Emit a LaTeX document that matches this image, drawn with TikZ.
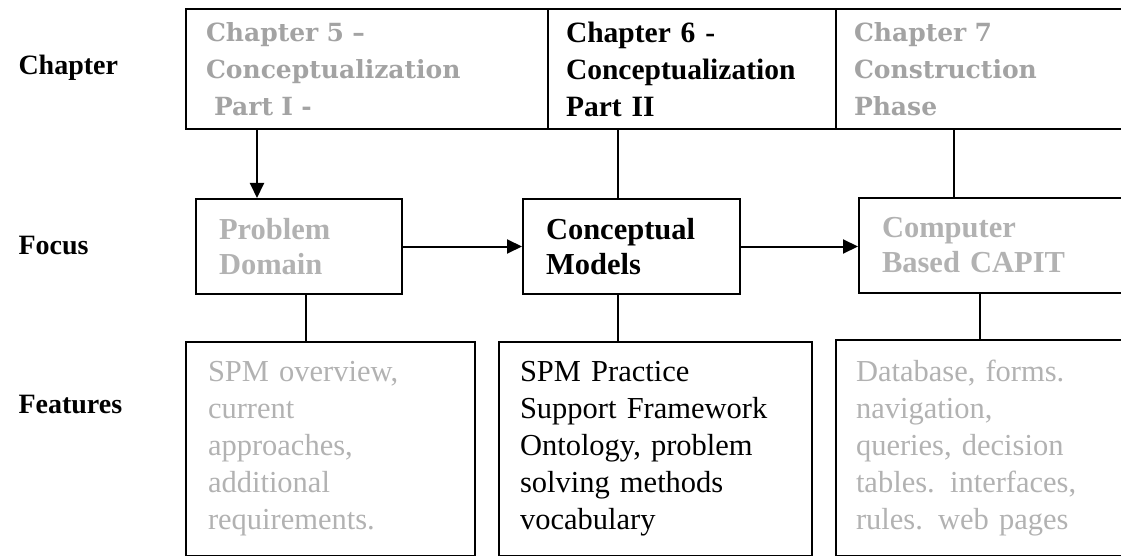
\documentclass[tikz,border=0pt]{standalone}
\usepackage{fontspec}
\setmainfont{Liberation Serif}
\newfontfamily\wideserif{DejaVu Serif}
\usetikzlibrary{arrows.meta}
\definecolor{fadedA}{gray}{0.64}
\definecolor{fadedB}{gray}{0.70}
\begin{document}
\begin{tikzpicture}[x=1pt,y=-1pt,
  box/.style={draw, line width=2pt, inner ysep=0pt, anchor=north west, align=left},
  lab/.style={font=\fontsize{28}{30}\selectfont\bfseries, anchor=west},
  arr/.style={line width=2pt, -{Triangle[length=15pt,width=14pt]}},
  con/.style={line width=2pt},
  topgrey/.style={font=\wideserif\bfseries\fontsize{25}{37}\selectfont, text=fadedA},
  topblack/.style={font=\bfseries\fontsize{29.5}{37}\selectfont},
  focgrey/.style={font=\bfseries\fontsize{30.5}{35}\selectfont, text=fadedB},
  focblack/.style={font=\bfseries\fontsize{30.5}{35}\selectfont},
  featgrey/.style={font=\fontsize{30.5}{37}\selectfont, text=fadedB},
  featblack/.style={font=\fontsize{30.5}{37}\selectfont}]
\useasboundingbox (0,0) rectangle (1121,556);
% labels
\node[lab] (lchap) at (15,68) {Chapter};
\node[lab] (lfoc) at (15,246) {Focus};
\node[lab] (lfeat) at (15,405) {Features};
% top row
\node[box, topgrey, inner xsep=20pt, text width=322pt, minimum height=120pt] (c5) at (185,8)
  {Chapter 5 –\\Conceptualization\\\hspace*{8pt}Part I -};
\node[box, topblack, inner xsep=18pt, text width=252pt, minimum height=120pt] (c6) at (547,8)
  {Chapter 6 -\\Conceptualization\\Part II};
\node[box, topgrey, inner xsep=18pt, text width=264pt, minimum height=120pt] (c7) at (835,8)
  {Chapter 7\\Construction\\Phase};
% focus row
\node[box, focgrey, inner xsep=23pt, text width=160pt, minimum height=95pt] (prob) at (195,198)
  {Problem\\Domain};
\node[box, focblack, inner xsep=23pt, text width=171pt, minimum height=95pt] (conc) at (522,198)
  {Conceptual\\Models};
\node[box, focgrey, inner xsep=23pt, text width=231pt, minimum height=95pt] (comp) at (858,197)
  {Computer\\Based CAPIT};
% features row
\node[box, featgrey, inner xsep=22pt, text width=245pt, minimum height=214pt] (f1) at (185,341)
  {SPM overview,\\current\\approaches,\\additional\\requirements.};
\node[box, featblack, inner xsep=21pt, text width=271pt, minimum height=214pt] (f2) at (498,341)
  {SPM Practice\\Support Framework\\Ontology, problem\\solving methods\\vocabulary};
\node[box, featgrey, inner xsep=20pt, text width=260pt, minimum height=216pt] (f3) at (835,339)
  {Database, forms.\\navigation,\\queries, decision\\tables. interfaces,\\rules. web pages};
% connector x positions
\coordinate (xa) at (257,0);
\coordinate (xb) at (618,0);
\coordinate (xc) at (954,0);
\coordinate (xd) at (306,0);
\coordinate (xe) at (980,0);
\draw[arr] (c5.south -| xa) -- (prob.north -| xa);
\draw[con] (c6.south -| xb) -- (conc.north -| xb);
\draw[con] (c7.south -| xc) -- (comp.north -| xc);
\draw[arr] (prob.east) -- (conc.west |- prob.east);
\draw[arr] (conc.east) -- (comp.west |- conc.east);
\draw[con] (prob.south -| xd) -- (f1.north -| xd);
\draw[con] (conc.south -| xb) -- (f2.north -| xb);
\draw[con] (comp.south -| xe) -- (f3.north -| xe);
\end{tikzpicture}
\end{document}
